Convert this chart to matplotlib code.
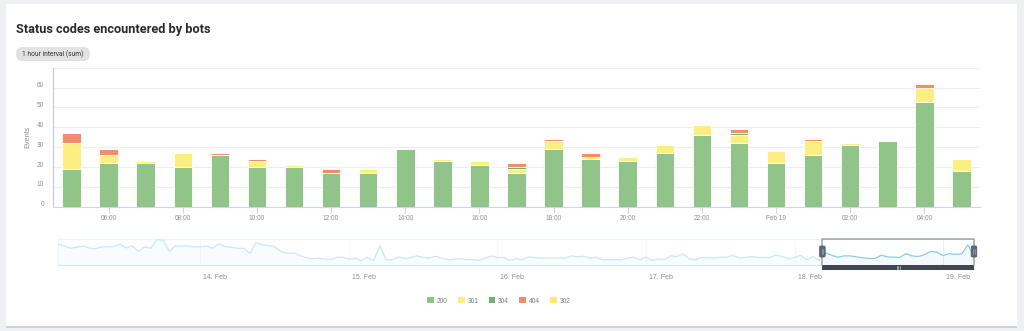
import numpy as np
import pandas as pd
import matplotlib
matplotlib.use("Agg")
import matplotlib.pyplot as plt
import matplotlib.dates as mdates
from matplotlib.patches import Rectangle, FancyBboxPatch, Patch
from matplotlib.transforms import ScaledTranslation, IdentityTransform

W, H = 1024, 331

# ── Data: hourly bot hits per status code, Feb 18 05:00 -> Feb 19 05:00 ──
HOURS = pd.date_range("2025-02-18 05:00", periods=25, freq="h")
CODES = ["200", "301", "304", "404", "302"]
S200 = [19, 22, 22, 20, 26, 20, 20, 17, 17, 29, 23, 21, 17, 29, 24, 23, 27, 36, 32, 22, 26, 31, 33, 53, 18]
S301 = [13, 4, 1, 7, 0, 3, 1, 0, 2, 0, 1, 2, 2, 4, 1, 2, 4, 5, 4, 6, 7, 1, 0, 7, 6]
S304 = [0, 0, 0, 0, 0, 0, 0, 0, 0, 0, 0, 0, 1, 0, 0, 0, 0, 0, 1, 0, 0, 0, 0, 0, 0]
S404 = [5, 3, 0, 0, 1, 1, 0, 2, 0, 0, 0, 0, 2, 1, 2, 0, 0, 0, 2, 0, 1, 0, 0, 2, 0]
S302 = [0] * 25
SERIES = [S200, S301, S304, S404, S302]
COLORS = ["#90c489", "#fdee81", "#70b46b", "#f08d6d", "#fde96c"]

# hourly totals for the week before (navigator), Feb 13 01:00 -> Feb 18 04:00
NAV_EARLIER = [
    64, 58, 51, 54, 58, 52, 49, 55, 55, 56,
    64, 52, 58, 41, 55, 51, 78, 76, 41, 59,
    58, 58, 55, 55, 58, 51, 65, 56, 54, 51,
    51, 35, 69, 62, 59, 55, 41, 35, 37, 28,
    22, 18, 20, 17, 15, 22, 23, 17, 20, 12,
    22, 12, 59, 15, 15, 24, 18, 22, 27, 22,
    20, 26, 20, 15, 16, 18, 15, 15, 13, 20,
    27, 22, 22, 13, 18, 15, 23, 22, 20, 20,
    20, 20, 20, 27, 24, 26, 20, 22, 15, 15,
    15, 15, 20, 23, 15, 23, 13, 18, 15, 27,
    25, 33, 18, 15, 22, 21, 20, 23, 22, 29,
    20, 22, 25, 22, 22, 22, 30, 25, 18, 22,
    29, 15, 25, 12,
]
totals = np.sum(SERIES, axis=0)
nav_vals = np.concatenate([NAV_EARLIER, totals])
nav_times = pd.date_range("2025-02-13 01:00", periods=len(nav_vals), freq="h")

TICK_COL = "#8a8f99"
AXIS_COL = "#ccd6eb"
CHART_FONT = ["Liberation Sans", "DejaVu Sans"]
plt.rcParams["font.family"] = CHART_FONT


def fx(x):
    return x / W


def fy(y):
    return 1 - y / H


fig = plt.figure(figsize=(W / 100, H / 100), dpi=100, facecolor="#eff0f4")

# card with a soft bottom shadow, kept behind the axes
fig.add_artist(Rectangle((fx(6), fy(328)), fx(1011), 4 / H, transform=fig.transFigure,
                         facecolor="#cdd0d5", edgecolor="none", zorder=-11))
fig.add_artist(Rectangle((fx(6), fy(326)), fx(1011), 322 / H, transform=fig.transFigure,
                         facecolor="white", edgecolor="none", zorder=-10))

fig.text(fx(16), fy(33.3), "Status codes encountered by bots", fontsize=9.2,
         fontweight="bold", family=["Roboto", "DejaVu Sans"], color="#2a2a2a", va="baseline")
fig.add_artist(FancyBboxPatch((16, H - 61), 74, 14, boxstyle="round,pad=0,rounding_size=7",
                              transform=IdentityTransform(), facecolor="#e2e2e2", edgecolor="none"))
fig.text(fx(53), fy(54), "1 hour interval (sum)", fontsize=4.8, family=["Roboto", "DejaVu Sans"],
         color="#333333", ha="center", va="center")

# ── Main stacked columns ─────────────────────────────────────────────────
ax = fig.add_axes([fx(53), fy(206.7), fx(927), (206.7 - 67.8) / H])
ax.patch.set_alpha(0)
bottom = np.zeros(len(HOURS))
for vals, col in zip(SERIES, COLORS):
    ax.bar(HOURS, vals, width=0.5 / 24, bottom=bottom, color=col,
           edgecolor="white", linewidth=0.6, zorder=3)
    bottom += np.array(vals)

half = pd.Timedelta(minutes=30)
ax.set_xlim(HOURS[0] - half, HOURS[-1] + half)
ax.set_ylim(0, 70)
ax.set_yticks(range(0, 71, 10))
ax.set_yticklabels([str(v) for v in range(0, 61, 10)] + [""])
ax.yaxis.grid(True, color="#ededed", linewidth=0.8, zorder=0)
ax.set_axisbelow(True)
for side in ("top", "right"):
    ax.spines[side].set_visible(False)
ax.spines["left"].set_color("#c4c8d0")
ax.spines["bottom"].set_color(AXIS_COL)
ax.xaxis.set_major_locator(mdates.HourLocator(byhour=range(0, 24, 2)))


def hour_fmt(x, pos):
    d = mdates.num2date(x)
    return d.strftime("%b %d") if d.hour == 0 else d.strftime("%H:%M")


ax.xaxis.set_major_formatter(plt.FuncFormatter(hour_fmt))
ax.tick_params(axis="x", length=4, color=AXIS_COL, labelsize=4.7, labelcolor=TICK_COL, pad=1.8)
ax.tick_params(axis="y", length=0, labelsize=4.7, labelcolor=TICK_COL, pad=6.3)
for lbl in ax.get_yticklabels():
    lbl.set_transform(lbl.get_transform() + ScaledTranslation(0, 0.03, fig.dpi_scale_trans))
fig.text(fx(28), fy(137), "Events", rotation=90, fontsize=5.3, color=TICK_COL,
         ha="center", va="center")

# ── Navigator ────────────────────────────────────────────────────────────
nav = fig.add_axes([fx(58), fy(264.5), fx(916), 25.5 / H])
nav.patch.set_alpha(0)
nav.plot(nav_times, nav_vals, color="#8ccbea", linewidth=0.9, zorder=3)
nav.fill_between(nav_times, nav_vals, 0, color="#5aaee0", alpha=0.07, linewidth=0, zorder=2)
nav.set_xlim(nav_times[0], nav_times[-1])
nav.set_ylim(0, 80)
nav.set_yticks([])
nav.xaxis.set_major_locator(mdates.DayLocator())
nav.xaxis.set_major_formatter(mdates.DateFormatter("%d. %b"))
nav.xaxis.grid(True, color="#eaeef2", linewidth=0.7, zorder=1)
nav.tick_params(axis="x", length=0, labelsize=5, labelcolor=TICK_COL, pad=7)
for lbl in nav.get_xticklabels():
    lbl.set_horizontalalignment("left")
    lbl.set_transform(lbl.get_transform() + ScaledTranslation(0.03, 0, fig.dpi_scale_trans))
for sp in nav.spines.values():
    sp.set_color("#d3e8f5")
    sp.set_linewidth(0.8)

sel_start = HOURS[0] - half
sel_end = nav_times[-1]
# fade the part of the week outside the zoomed range
nav.axvspan(nav_times[0], sel_start, facecolor="white", alpha=0.55, linewidth=0, zorder=4)

x0 = nav.transData.transform((mdates.date2num(sel_start), 0))[0]
x1 = nav.transData.transform((mdates.date2num(sel_end), 0))[0]
top_px, bot_px = H - 239, H - 264.5
fig.add_artist(plt.Line2D([x0, x0, x1, x1], [bot_px, top_px, top_px, bot_px],
                          transform=IdentityTransform(), color="#9ea3ab", linewidth=1.1))
# scrollbar under the selected range
fig.add_artist(Rectangle((x0, H - 269.5), x1 - x0, 5, transform=IdentityTransform(),
                         facecolor="#3f4753", edgecolor="none"))
xm = (x0 + x1) / 2
for dx in (-1.5, 0, 1.5):
    fig.add_artist(plt.Line2D([xm + dx, xm + dx], [H - 268.5, H - 265.8],
                              transform=IdentityTransform(), color="#c9ced6", linewidth=0.5))
# drag handles
for xh in (x0, x1):
    fig.add_artist(FancyBboxPatch((xh - 2.8, H - 257), 5.6, 11,
                                  boxstyle="round,pad=0,rounding_size=1.2",
                                  transform=IdentityTransform(), facecolor="#5f6a78",
                                  edgecolor="#4b5562", linewidth=0.5, zorder=6))
    for dx in (-0.8, 0.8):
        fig.add_artist(plt.Line2D([xh + dx, xh + dx], [H - 254, H - 249],
                                  transform=IdentityTransform(), color="#aab2bc", linewidth=0.4,
                                  zorder=7))

# ── Legend ───────────────────────────────────────────────────────────────
handles = [Patch(facecolor=c, edgecolor="none") for c in COLORS]
fig.legend(handles, CODES, loc="center", bbox_to_anchor=(fx(499), fy(301)), ncol=5,
           frameon=False, fontsize=4.8, labelcolor="#777c86", handlelength=1.0,
           handleheight=1.0, handletextpad=0.45, columnspacing=1.5, borderpad=0)

fig.savefig("out.png", dpi=100, facecolor=fig.get_facecolor())
